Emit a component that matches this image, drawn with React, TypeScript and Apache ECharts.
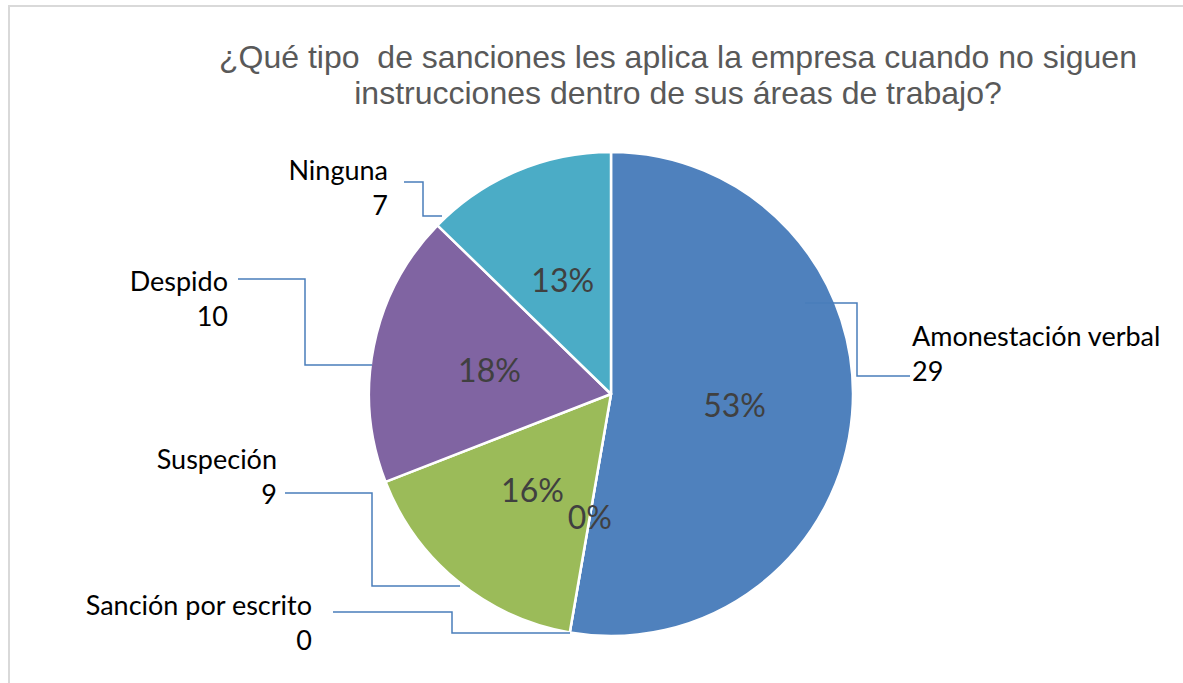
import React, { useEffect, useRef } from "react";
import * as echarts from "echarts";

const TITLE_LINES = [
  "¿Qué tipo  de sanciones les aplica la empresa cuando no siguen",
  "instrucciones dentro de sus áreas de trabajo?",
];
const CATEGORIES = [
  "Amonestación verbal",
  "Sanción por escrito",
  "Suspeción",
  "Despido",
  "Ninguna",
];
const VALUES = [29, 0, 9, 10, 7];
const COLORS = ["#4f81bd", "#c0504d", "#9bbb59", "#8064a2", "#4bacc6"];

// label placement (layout only): anchor x, middle y, alignment, leader line path
const LABEL_LAYOUT = [
  { x: 912, y: 353, align: "left", line: [[805, 303], [857, 303], [857, 376], [910, 376]] },
  { x: 312, y: 622, align: "right", line: [[570, 633], [452, 633], [452, 612], [333, 612]] },
  { x: 277, y: 476, align: "right", line: [[460, 586], [372, 586], [372, 493], [285, 493]] },
  { x: 228, y: 298, align: "right", line: [[372, 365], [305, 365], [305, 279], [238, 279]] },
  { x: 388, y: 187, align: "right", line: [[442, 216], [423, 216], [423, 182], [404, 182]] },
];

export default function App() {
  const ref = useRef<HTMLDivElement>(null);
  useEffect(() => {
    if (!ref.current) return;
    const chart = echarts.init(ref.current, undefined, { renderer: "svg" });
    const data = CATEGORIES.map((name, i) => ({
      name,
      value: VALUES[i],
      itemStyle: { color: COLORS[i] },
    }));
    const outerData = CATEGORIES.map((name, i) => ({
      name,
      value: VALUES[i],
    }));
    chart.setOption({
      animation: false,
      backgroundColor: "#ffffff",
      title: {
        text: TITLE_LINES.join("\n"),
        left: 673,
        top: 34,
        textAlign: "center",
        textStyle: {
          fontFamily: "Liberation Sans, Arial, sans-serif",
          fontSize: 32,
          fontWeight: "normal",
          color: "#595959",
          lineHeight: 36,
          align: "center",
        },
      },
      graphic: [
        {
          type: "rect",
          shape: { x: 9, y: 6, width: 1200, height: 720 },
          style: { fill: "none", stroke: "#d9d9d9", lineWidth: 2 },
          silent: true,
        },
      ],
      series: [
        {
          type: "pie",
          center: [611, 394],
          radius: [0, 242],
          startAngle: 90,
          clockwise: true,
          percentPrecision: 0,
          data,
          itemStyle: { borderColor: "#ffffff", borderWidth: 2.5 },
          label: {
            show: true,
            position: "inside",
            formatter: "{d}%",
            fontFamily: "Lato, sans-serif",
            fontSize: 32,
            color: "#404040",
          },
          labelLine: { show: false },
          emphasis: { disabled: true },
          z: 2,
        },
        {
          type: "pie",
          center: [611, 394],
          radius: [0, 242],
          startAngle: 90,
          clockwise: true,
          silent: true,
          data: outerData,
          itemStyle: { color: "rgba(0,0,0,0)", borderWidth: 0 },
          label: {
            show: true,
            position: "outside",
            formatter: "{b}\n{c}",
            fontFamily: "Lato, sans-serif",
            fontSize: 27,
            lineHeight: 35,
            color: "#000000",
          },
          labelLine: {
            show: true,
            smooth: false,
            lineStyle: { color: "#4a7ebb", width: 1.5, opacity: 1 },
          },
          labelLayout: (params: any) => {
            const l = LABEL_LAYOUT[params.dataIndex];
            return {
              x: l.x,
              y: l.y,
              align: l.align,
              verticalAlign: "middle",
              labelLinePoints: l.line,
            };
          },
          emphasis: { disabled: true },
          z: 3,
        },
      ],
    });
    return () => chart.dispose();
  }, []);
  return (
    <div
      ref={ref}
      style={{ position: "fixed", left: 0, top: 0, width: 1183, height: 683 }}
    />
  );
}
